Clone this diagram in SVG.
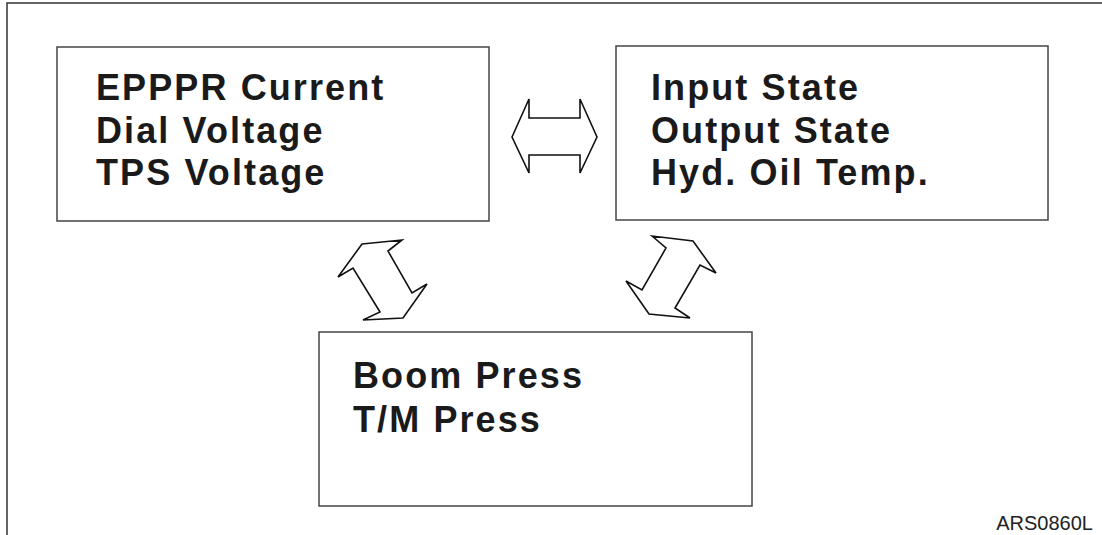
<svg xmlns="http://www.w3.org/2000/svg" width="1102" height="535" viewBox="0 0 1102 535">
<style>
.box{fill:#fff;stroke:#444;stroke-width:1.5}
.t{font-family:"Liberation Sans",Arial,sans-serif;font-weight:bold;font-size:36px;letter-spacing:2.1px;fill:#1a1a1a}
.arr{fill:#fff;stroke:#111;stroke-width:1.6;stroke-linejoin:miter}
.code{font-family:"Liberation Sans",Arial,sans-serif;font-size:20px;fill:#222}
</style>
<rect width="1102" height="535" fill="#fff"/>
<path d="M7,535 V3 H1102" fill="none" stroke="#333" stroke-width="1.5"/>
<g id="node-left">
<rect class="box" x="57" y="47" width="432" height="174"/>
<text class="t" x="96" y="100">EPPPR Current</text>
<text class="t" x="96" y="143">Dial Voltage</text>
<text class="t" x="96" y="185">TPS Voltage</text>
</g>
<g id="node-right">
<rect class="box" x="616" y="46" width="432" height="174"/>
<text class="t" x="651" y="100">Input State</text>
<text class="t" x="651" y="143">Output State</text>
<text class="t" x="651" y="185">Hyd. Oil Temp.</text>
</g>
<g id="node-bottom">
<rect class="box" x="319" y="332" width="433" height="174"/>
<text class="t" x="353" y="388">Boom Press</text>
<text class="t" x="353" y="432">T/M Press</text>
</g>
<g id="connectors">
<polygon class="arr" points="512,137 529,99 529,118 580,118 580,99 597,137 580,173 580,155 529,155 529,173"/>
<polygon class="arr" points="362,244 402,240 388,251 412,293 427,284 403,318 363,320 380,312 353,268 338,277"/>
<polygon class="arr" points="652,236 666,248 642,290 626,281 649,314 690,318 675,308 700,265 716,273 693,241"/>
</g>
<text class="code" x="1093" y="530" text-anchor="end">ARS0860L</text>
</svg>
